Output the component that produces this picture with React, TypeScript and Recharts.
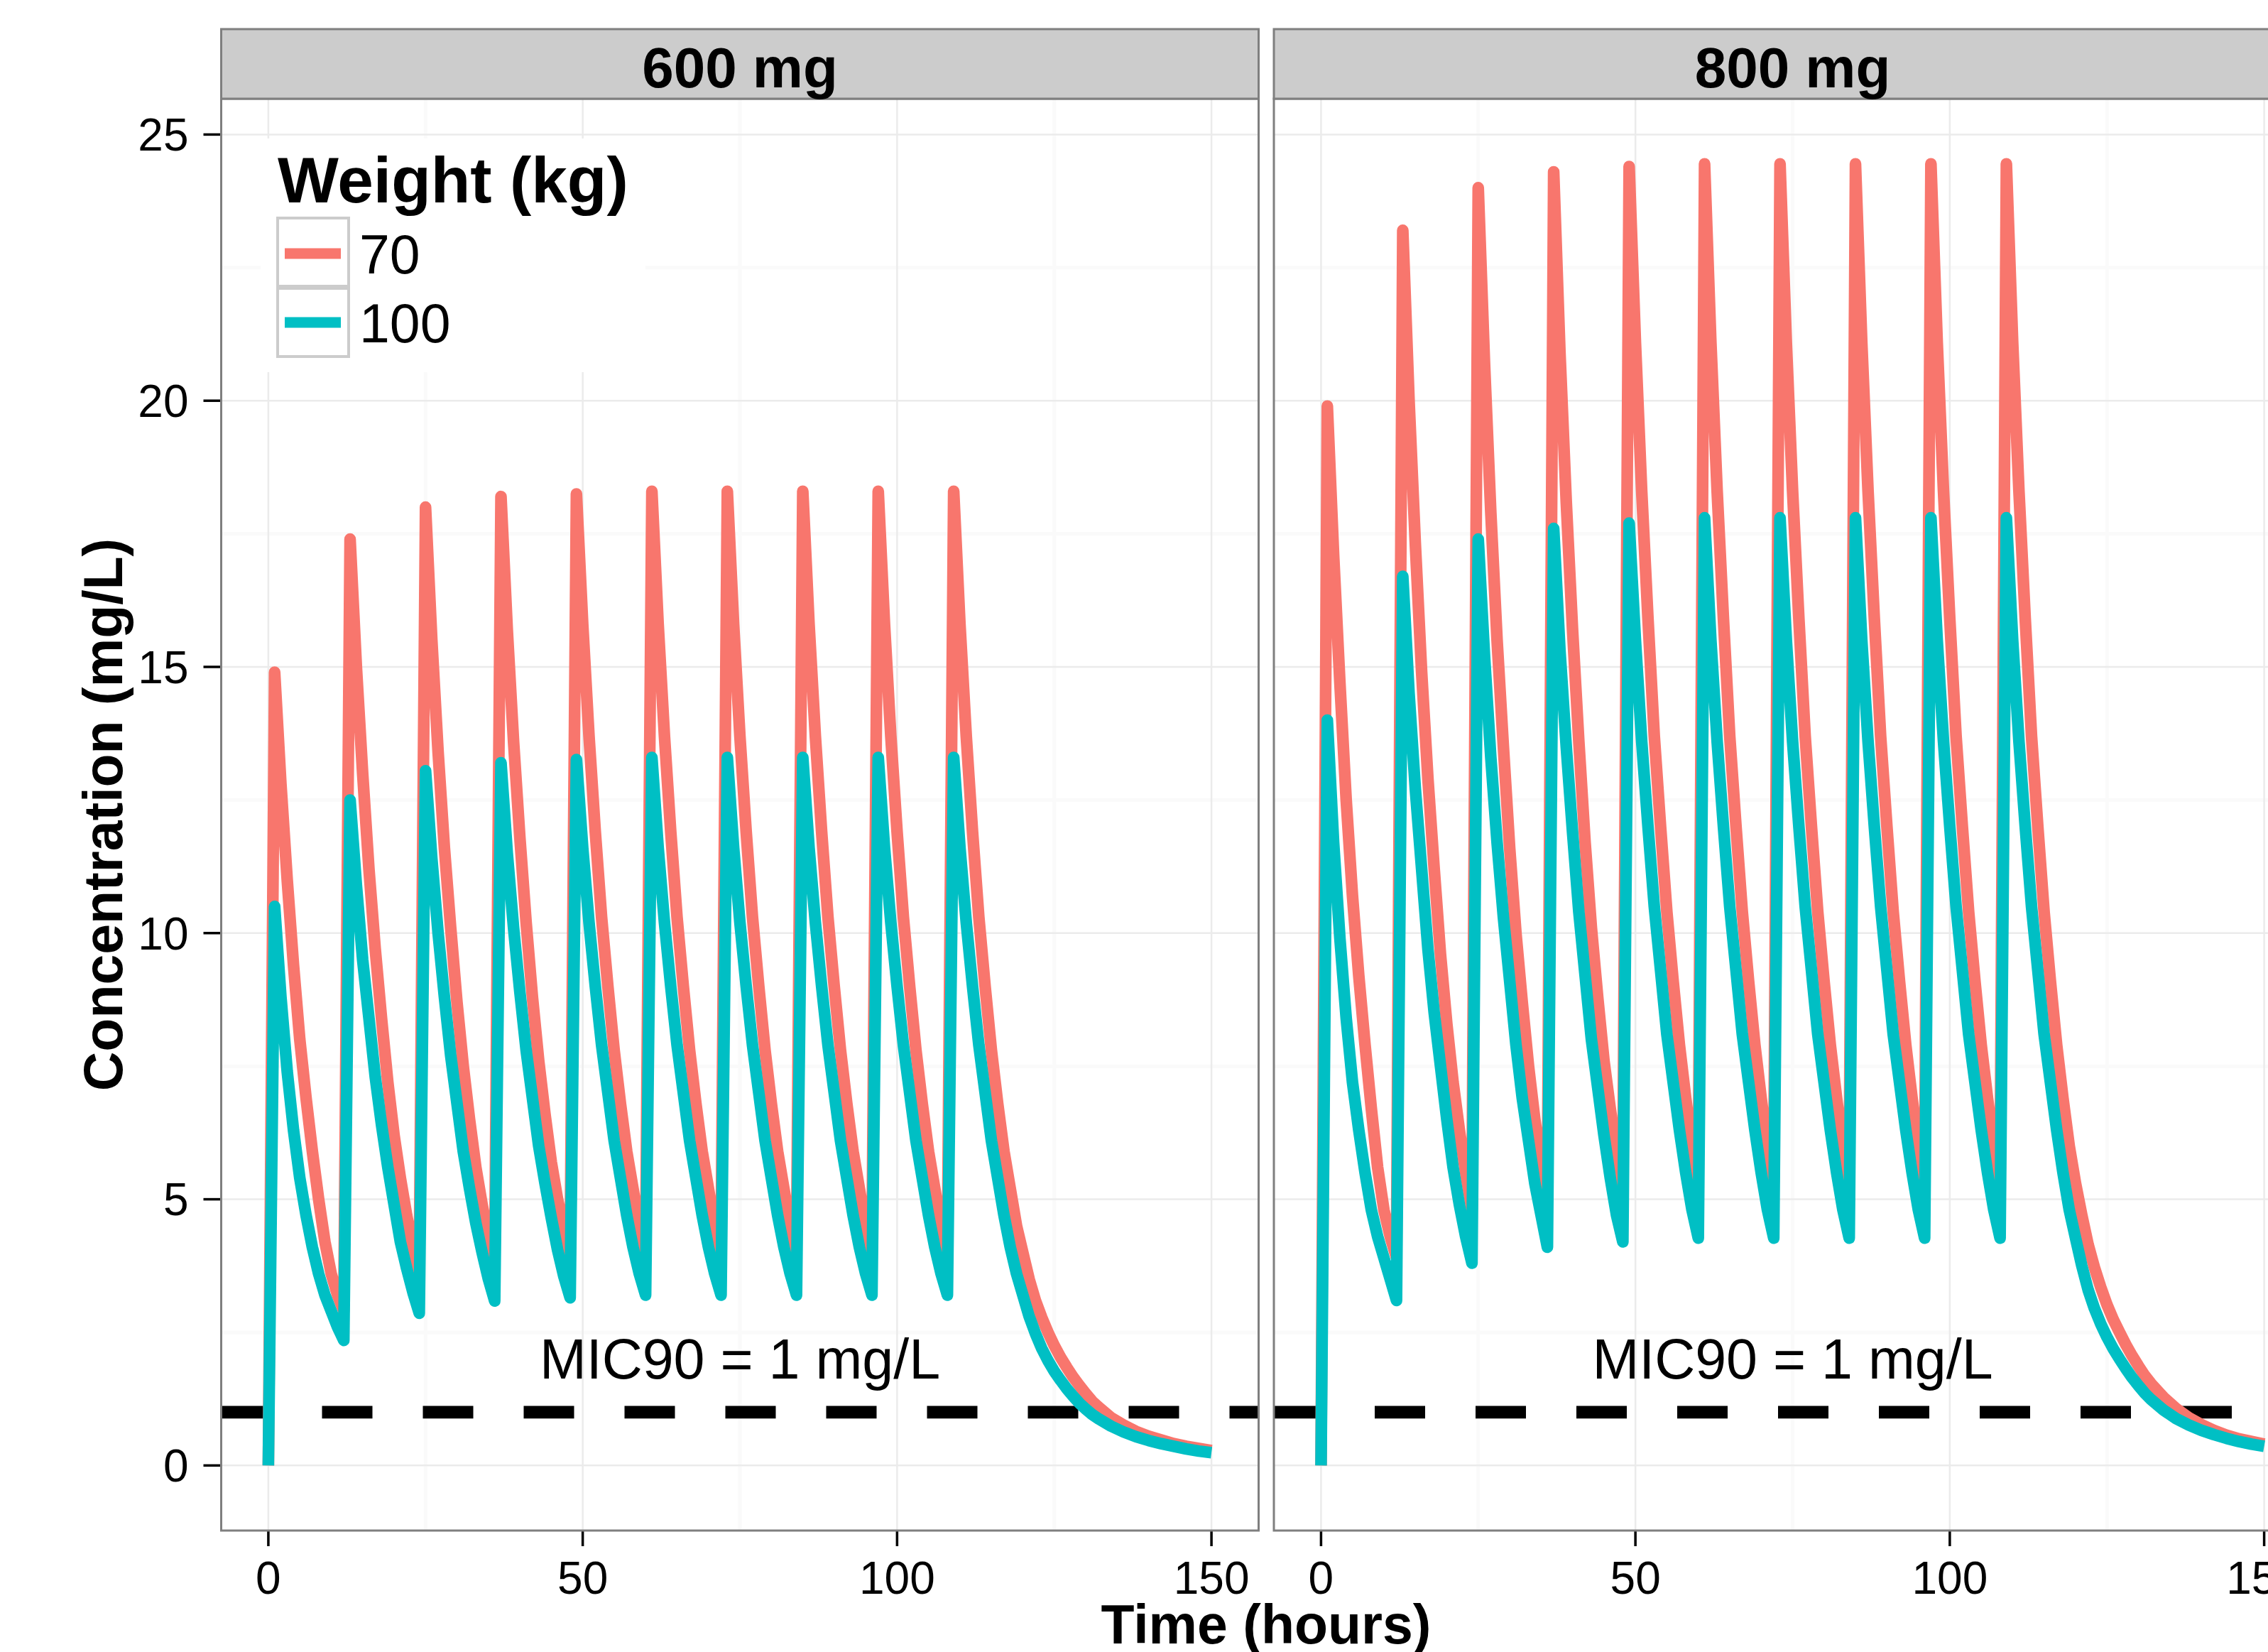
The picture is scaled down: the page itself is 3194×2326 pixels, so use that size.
import React from "react";
import {
  LineChart,
  Line,
  XAxis,
  YAxis,
  CartesianGrid,
  ReferenceLine,
  ReferenceDot,
} from "recharts";

const FONT = '"Liberation Sans", Arial, Helvetica, sans-serif';
const RED = "#F8766D";
const TEAL = "#00BFC4";

// hours after first dose (doses every 12 h, 10 doses)
const TIME_H = [
  0, 1, 2, 3, 4, 5, 6, 7, 8, 9, 10, 11,
  12, 13, 14, 15, 16, 17, 18, 19, 20, 21, 22, 23,
  24, 25, 26, 27, 28, 29, 30, 31, 32, 33, 34, 35,
  36, 37, 38, 39, 40, 41, 42, 43, 44, 45, 46, 47,
  48, 49, 50, 51, 52, 53, 54, 55, 56, 57, 58, 59,
  60, 61, 62, 63, 64, 65, 66, 67, 68, 69, 70, 71,
  72, 73, 74, 75, 76, 77, 78, 79, 80, 81, 82, 83,
  84, 85, 86, 87, 88, 89, 90, 91, 92, 93, 94, 95,
  96, 97, 98, 99, 100, 101, 102, 103, 104, 105, 106, 107,
  108, 109, 110, 111, 112, 113, 114, 115, 116, 117, 118, 119,
  120, 121, 122, 123, 124, 125, 126, 127, 128, 129, 130, 131, 132,
  134, 136, 138, 140, 142, 144, 146, 148, 150,
];

// 600 mg, 70 kg
const CONC_70_600 = [
  0, 14.9, 12.8, 11.0, 9.4, 8.0, 6.9, 5.9, 5.0, 4.2, 3.6, 3.2,
  2.9, 17.4, 15.0, 13.0, 11.2, 9.7, 8.4, 7.2, 6.2, 5.4, 4.7, 4.1,
  3.6, 18.0, 15.5, 13.4, 11.6, 10.1, 8.7, 7.5, 6.5, 5.6, 4.9, 4.3,
  3.8, 18.2, 15.7, 13.6, 11.8, 10.2, 8.8, 7.6, 6.6, 5.7, 5.0, 4.45,
  3.95, 18.25, 15.8, 13.7, 11.9, 10.3, 9.0, 7.8, 6.8, 5.9, 5.2, 4.5,
  4.0, 18.3, 15.8, 13.7, 11.9, 10.3, 9.0, 7.8, 6.8, 5.9, 5.2, 4.5,
  4.0, 18.3, 15.8, 13.7, 11.9, 10.3, 9.0, 7.8, 6.8, 5.9, 5.2, 4.5,
  4.0, 18.3, 15.8, 13.7, 11.9, 10.3, 9.0, 7.8, 6.8, 5.9, 5.2, 4.5,
  4.0, 18.3, 15.8, 13.7, 11.9, 10.3, 9.0, 7.8, 6.8, 5.9, 5.2, 4.5,
  4.0, 18.3, 15.8, 13.7, 11.9, 10.3, 9.0, 7.8, 6.8, 5.9, 5.2, 4.5,
  4.0, 3.5, 3.1, 2.78, 2.5, 2.25, 2.03, 1.84, 1.66, 1.5, 1.35, 1.21, 1.1,
  0.9, 0.76, 0.64, 0.55, 0.48, 0.41, 0.36, 0.32, 0.28,
];

// 600 mg, 100 kg
const CONC_100_600 = [
  0, 10.5, 8.8, 7.4, 6.3, 5.4, 4.7, 4.1, 3.6, 3.2, 2.9, 2.6,
  2.35, 12.5, 10.9, 9.5, 8.4, 7.3, 6.4, 5.6, 4.9, 4.2, 3.7, 3.25,
  2.86, 13.05, 11.4, 10.0, 8.8, 7.7, 6.8, 5.9, 5.2, 4.55, 4.0, 3.5,
  3.09, 13.2, 11.5, 10.1, 8.9, 7.8, 6.9, 6.0, 5.3, 4.65, 4.05, 3.55,
  3.15, 13.26, 11.6, 10.2, 9.0, 7.9, 7.0, 6.1, 5.4, 4.7, 4.1, 3.6,
  3.2, 13.3, 11.6, 10.2, 9.0, 7.9, 7.0, 6.1, 5.4, 4.7, 4.1, 3.6,
  3.2, 13.3, 11.6, 10.2, 9.0, 7.9, 7.0, 6.1, 5.4, 4.7, 4.1, 3.6,
  3.2, 13.3, 11.6, 10.2, 9.0, 7.9, 7.0, 6.1, 5.4, 4.7, 4.1, 3.6,
  3.2, 13.3, 11.6, 10.2, 9.0, 7.9, 7.0, 6.1, 5.4, 4.7, 4.1, 3.6,
  3.2, 13.3, 11.6, 10.2, 9.0, 7.9, 7.0, 6.1, 5.4, 4.7, 4.1, 3.6,
  3.2, 2.8, 2.48, 2.2, 1.97, 1.77, 1.6, 1.44, 1.3, 1.17, 1.06, 0.96, 0.88,
  0.74, 0.63, 0.54, 0.47, 0.41, 0.36, 0.31, 0.27, 0.24,
];

// 800 mg, 70 kg
const CONC_70_800 = [
  0, 19.9, 17.1, 14.7, 12.5, 10.7, 9.2, 7.9, 6.7, 5.6, 4.8, 4.3,
  3.9, 23.2, 20.0, 17.3, 14.9, 12.9, 11.2, 9.6, 8.3, 7.2, 6.3, 5.5,
  4.8, 24.0, 20.7, 17.9, 15.5, 13.5, 11.6, 10.0, 8.7, 7.5, 6.5, 5.7,
  5.1, 24.3, 20.9, 18.1, 15.7, 13.6, 11.7, 10.1, 8.8, 7.6, 6.7, 5.9,
  5.25, 24.4, 21.1, 18.3, 15.9, 13.7, 12.0, 10.4, 9.1, 7.9, 6.9, 6.0,
  5.3, 24.45, 21.1, 18.3, 15.9, 13.7, 12.0, 10.4, 9.1, 7.9, 6.9, 6.0,
  5.3, 24.45, 21.1, 18.3, 15.9, 13.7, 12.0, 10.4, 9.1, 7.9, 6.9, 6.0,
  5.3, 24.45, 21.1, 18.3, 15.9, 13.7, 12.0, 10.4, 9.1, 7.9, 6.9, 6.0,
  5.3, 24.45, 21.1, 18.3, 15.9, 13.7, 12.0, 10.4, 9.1, 7.9, 6.9, 6.0,
  5.3, 24.45, 21.1, 18.3, 15.9, 13.7, 12.0, 10.4, 9.1, 7.9, 6.9, 6.0,
  5.3, 4.7, 4.15, 3.72, 3.35, 3.02, 2.74, 2.5, 2.27, 2.06, 1.87, 1.69, 1.54,
  1.28, 1.07, 0.9, 0.77, 0.66, 0.57, 0.5, 0.45, 0.4,
];

// 800 mg, 100 kg
const CONC_100_800 = [
  0, 14.0, 11.7, 9.9, 8.4, 7.2, 6.3, 5.5, 4.8, 4.3, 3.9, 3.5,
  3.1, 16.7, 14.5, 12.7, 11.2, 9.7, 8.5, 7.5, 6.5, 5.6, 4.9, 4.3,
  3.8, 17.4, 15.2, 13.3, 11.7, 10.3, 9.1, 7.9, 6.9, 6.1, 5.3, 4.7,
  4.1, 17.6, 15.3, 13.5, 11.9, 10.4, 9.2, 8.0, 7.1, 6.2, 5.4, 4.7,
  4.2, 17.7, 15.5, 13.6, 12.0, 10.5, 9.3, 8.1, 7.2, 6.3, 5.5, 4.8,
  4.27, 17.8, 15.5, 13.6, 12.0, 10.5, 9.3, 8.1, 7.2, 6.3, 5.5, 4.8,
  4.27, 17.8, 15.5, 13.6, 12.0, 10.5, 9.3, 8.1, 7.2, 6.3, 5.5, 4.8,
  4.27, 17.8, 15.5, 13.6, 12.0, 10.5, 9.3, 8.1, 7.2, 6.3, 5.5, 4.8,
  4.27, 17.8, 15.5, 13.6, 12.0, 10.5, 9.3, 8.1, 7.2, 6.3, 5.5, 4.8,
  4.27, 17.8, 15.5, 13.6, 12.0, 10.5, 9.3, 8.1, 7.2, 6.3, 5.5, 4.8,
  4.27, 3.75, 3.3, 2.95, 2.66, 2.41, 2.19, 2.0, 1.82, 1.65, 1.5, 1.36, 1.24,
  1.04, 0.88, 0.76, 0.66, 0.58, 0.51, 0.45, 0.4, 0.36,
];

const PANEL_LABELS = ["600 mg", "800 mg"];
const WEIGHT_LABELS = ["70", "100"];
const X_TICKS = [0, 50, 100, 150];
const X_MINOR = [25, 75, 125];
const Y_TICKS = [0, 5, 10, 15, 20, 25];
const Y_MINOR = [2.5, 7.5, 12.5, 17.5, 22.5];
const MIC90 = 1;
const MIC_LABEL = "MIC90 = 1 mg/L";

const X_DOMAIN = [-7.5, 157.5];
const Y_DOMAIN = [-1.2225, 25.6725];

function buildRows(w70: number[], w100: number[]) {
  return TIME_H.map((t, i) => ({ t, w70: w70[i], w100: w100[i] }));
}

const rows600 = buildRows(CONC_70_600, CONC_100_600);
const rows800 = buildRows(CONC_70_800, CONC_100_800);

// panel geometry (px)
const PANEL_TOP = 139;
const PANEL_BOTTOM = 2155;
const PANEL_W = 1461;
const LEFT_X = 311.5;
const RIGHT_X = 1794;
const LINE_W = 16.5;

function Panel({ rows, left, showY }: { rows: any[]; left: number; showY: boolean }) {
  const yWidth = showY ? LEFT_X : 0;
  const rightPad = 30;
  const width = yWidth + PANEL_W + rightPad;
  return (
    <div style={{ position: "absolute", left: showY ? 0 : left, top: 0 }}>
      <LineChart
        width={width}
        height={2326}
        data={rows}
        margin={{ top: PANEL_TOP, right: rightPad, bottom: 0, left: 0 }}
      >
        <CartesianGrid
          horizontalValues={Y_MINOR}
          verticalValues={X_MINOR}
          stroke="#FAFAFA"
          strokeWidth={5}
        />
        <CartesianGrid
          horizontalValues={Y_TICKS}
          verticalValues={X_TICKS}
          stroke="#EBEBEB"
          strokeWidth={2.5}
        />
        <XAxis
          type="number"
          dataKey="t"
          domain={X_DOMAIN}
          ticks={X_TICKS}
          allowDataOverflow
          height={2326 - PANEL_BOTTOM}
          axisLine={false}
          tickSize={22}
          tickMargin={22}
          tickLine={{ stroke: "#000", strokeWidth: 3.5 }}
          tick={{ fontSize: 64, fill: "#000", fontFamily: FONT }}
        />
        <YAxis
          type="number"
          domain={Y_DOMAIN}
          ticks={Y_TICKS}
          allowDataOverflow
          hide={!showY}
          width={yWidth}
          axisLine={false}
          tickSize={25}
          tickMargin={21}
          tickLine={{ stroke: "#000", strokeWidth: 3.5 }}
          tick={{ fontSize: 64, fill: "#000", fontFamily: FONT }}
        />
        <ReferenceLine
          y={MIC90}
          stroke="#000"
          strokeWidth={17.6}
          strokeDasharray="71 71"
        />
        <Line
          dataKey="w70"
          type="linear"
          stroke={RED}
          strokeWidth={LINE_W}
          strokeLinejoin="round"
          dot={false}
          activeDot={false}
          isAnimationActive={false}
        />
        <Line
          dataKey="w100"
          type="linear"
          stroke={TEAL}
          strokeWidth={LINE_W}
          strokeLinejoin="round"
          dot={false}
          activeDot={false}
          isAnimationActive={false}
        />
        <ReferenceDot
          x={75}
          y={2}
          r={0}
          fill="none"
          stroke="none"
          label={{
            value: MIC_LABEL,
            position: "center",
            fontSize: 79,
            fill: "#000",
            fontFamily: FONT,
          }}
        />
      </LineChart>
    </div>
  );
}

export default function App() {
  const panelLefts = [LEFT_X, RIGHT_X];
  return (
    <div
      style={{
        position: "absolute",
        left: 0,
        top: 0,
        width: 3194,
        height: 2326,
        overflow: "hidden",
        background: "#fff",
        fontFamily: FONT,
      }}
    >
      <Panel rows={rows600} left={LEFT_X} showY />
      <Panel rows={rows800} left={RIGHT_X} showY={false} />

      <svg
        width={3194}
        height={2326}
        style={{ position: "absolute", left: 0, top: 0, pointerEvents: "none" }}
        fontFamily={FONT}
      >
        {panelLefts.map((x, i) => (
          <g key={i}>
            <rect
              x={x}
              y={PANEL_TOP}
              width={PANEL_W}
              height={PANEL_BOTTOM - PANEL_TOP}
              fill="none"
              stroke="#7F7F7F"
              strokeWidth={3}
            />
            <rect
              x={x}
              y={41}
              width={PANEL_W}
              height={PANEL_TOP - 41}
              fill="#CCCCCC"
              stroke="#7F7F7F"
              strokeWidth={3}
            />
            <text
              x={x + PANEL_W / 2}
              y={122.5}
              textAnchor="middle"
              fontSize={80}
              fontWeight="bold"
              fill="#000"
            >
              {PANEL_LABELS[i]}
            </text>
          </g>
        ))}

        {/* legend inside the 600 mg panel */}
        <rect x={367} y={195} width={542} height={329} fill="#fff" />
        <text x={391} y={285} fontSize={91} fontWeight="bold" fill="#000">
          Weight (kg)
        </text>
        {WEIGHT_LABELS.map((w, i) => (
          <g key={w}>
            <rect
              x={391}
              y={307 + i * 99}
              width={100}
              height={96}
              fill="#fff"
              stroke="#CCCCCC"
              strokeWidth={4}
            />
            <line
              x1={401}
              x2={480}
              y1={357 + i * 97}
              y2={357 + i * 97}
              stroke={i === 0 ? RED : TEAL}
              strokeWidth={15}
            />
            <text x={506} y={384.5 + i * 97.5} fontSize={77} fill="#000">
              {w}
            </text>
          </g>
        ))}

        <text
          transform="translate(172,1147) rotate(-90)"
          textAnchor="middle"
          fontSize={77}
          fontWeight="bold"
          fill="#000"
        >
          Concentration (mg/L)
        </text>
        <text
          x={1783}
          y={2314}
          textAnchor="middle"
          fontSize={77}
          fontWeight="bold"
          fill="#000"
        >
          Time (hours)
        </text>
      </svg>
    </div>
  );
}
